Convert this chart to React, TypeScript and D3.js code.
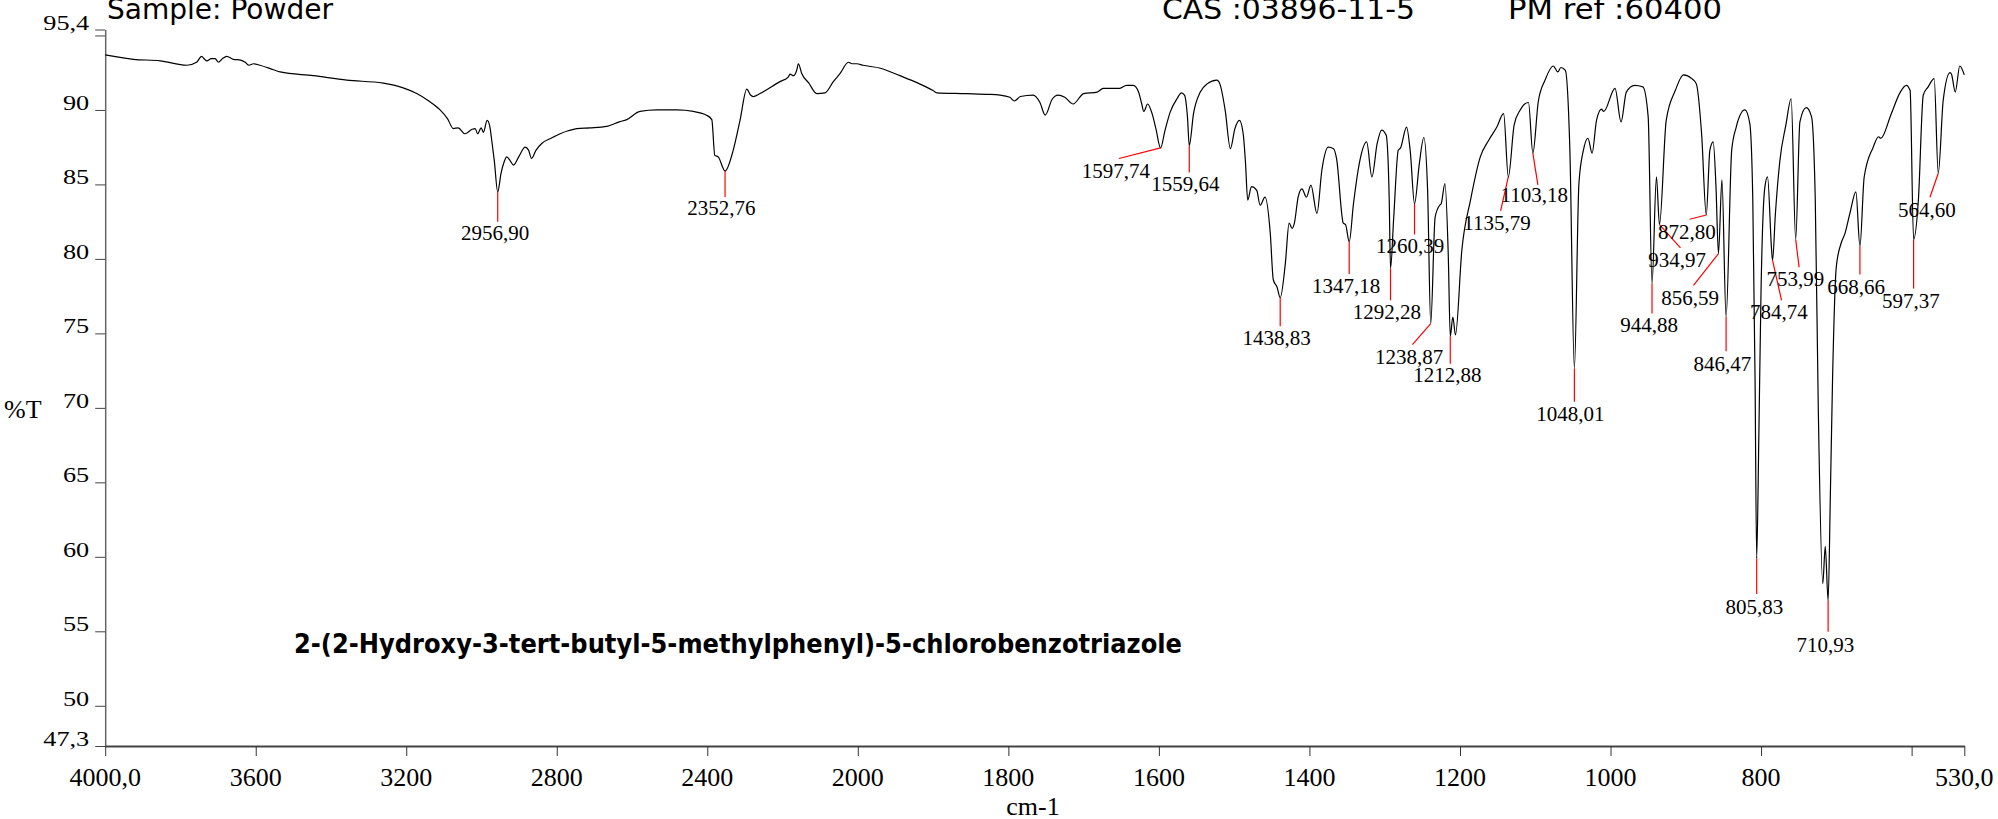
import React, { useEffect, useRef } from 'react';
import * as d3 from 'd3';

// spectrum (cm-1, %T)
const wavenumbers = [
  4000, 3925, 3854, 3783, 3757, 3744, 3736, 3730, 3718, 3708, 3699, 3688, 3677, 3660, 3640, 3628, 3618, 3606, 3589,
  3553, 3535, 3447, 3358, 3261, 3210, 3172, 3140, 3110, 3090, 3075, 3062, 3044, 3025, 3017, 3010, 3001, 2995, 2985,
  2978, 2973, 2966, 2956.9, 2948, 2940, 2933, 2924, 2915, 2900, 2884, 2875, 2867, 2855, 2840, 2815, 2791, 2770, 2747,
  2712, 2667, 2634, 2614, 2579, 2534, 2480, 2437, 2402, 2388, 2380, 2371, 2352.76, 2331, 2313, 2295, 2285, 2278, 2260,
  2207, 2185, 2180, 2171, 2162, 2158, 2149, 2130, 2109, 2087, 2065, 2047, 2025, 2015, 2003, 1993, 1970, 1944, 1920,
  1900, 1895, 1855, 1829, 1811, 1798, 1792, 1784, 1767, 1758, 1751, 1742, 1734, 1725, 1714, 1700, 1682, 1674, 1652,
  1643, 1634, 1627, 1623, 1620, 1615, 1609, 1604, 1597.74, 1592, 1585, 1576, 1570, 1566, 1562, 1559.64, 1554, 1545,
  1536, 1523, 1519, 1512, 1505, 1499, 1493, 1488, 1485, 1482, 1477, 1470, 1465.5, 1459, 1452, 1448, 1443, 1438.83,
  1432, 1427, 1423, 1420, 1415, 1410, 1404, 1398, 1390, 1383.5, 1375, 1368, 1364, 1355, 1352, 1347.18, 1341.5, 1333,
  1324, 1317, 1310, 1304, 1298, 1294, 1292.28, 1288, 1282, 1279, 1271, 1266, 1260.39, 1254, 1248, 1243, 1238.87,
  1233, 1227, 1225, 1220, 1215.5, 1212.88, 1209.5, 1206, 1197.5, 1186, 1173, 1162, 1151, 1142, 1135.79, 1128, 1120,
  1109, 1103.18, 1096, 1087, 1076, 1070, 1066, 1060, 1054, 1048.01, 1042, 1036, 1030, 1024.5, 1018.6, 1012, 1009,
  994, 986, 979, 968, 957, 950, 944.88, 939, 934.97, 926, 914, 903, 892, 886, 879, 872.8, 868, 863.6, 860, 856.59,
  852, 846.47, 839, 833, 821.5, 815, 811, 808, 805.83, 803, 800, 795, 791.4, 786, 784.74, 781, 775, 767, 760, 753.99,
  748.4, 740, 733, 728, 724, 718, 714.7, 710.93, 708, 705, 700, 693, 688.6, 682, 674, 668.66, 663, 651, 644, 641,
  627, 615, 607, 602, 597.37, 591, 584.5, 578, 570, 564.6, 558, 549, 547, 542, 536, 530
];

const transmittance = [
  93.7, 93.4, 93.3, 93.0, 93.2, 93.6, 93.4, 93.3, 93.45, 93.45, 93.2, 93.45, 93.6, 93.4, 93.35, 93.2, 93.0, 93.1, 93.0,
  92.7, 92.55, 92.3, 92.0, 91.8, 91.5, 91.1, 90.6, 90.0, 89.4, 88.75, 88.8, 88.4, 88.7, 88.75, 88.4, 88.8, 88.5, 89.3,
  88.9, 88.0, 86.6, 84.5, 85.75, 86.5, 86.85, 86.6, 86.3, 86.9, 87.5, 87.3, 86.75, 87.3, 87.75, 88.1, 88.4, 88.6, 88.75,
  88.8, 88.9, 89.2, 89.35, 89.9, 90.0, 90.0, 89.9, 89.65, 89.35, 86.95, 86.85, 85.9, 87.3, 89.3, 91.4, 91.0, 90.9, 91.1,
  91.9, 92.2, 92.4, 92.3, 92.7, 93.1, 92.45, 91.8, 91.1, 91.15, 91.9, 92.45, 93.2, 93.1, 93.1, 93.0, 92.8, 92.3, 91.8,
  91.3, 91.15, 91.1, 91.05, 91.0, 90.85, 90.6, 90.9, 91.0, 90.5, 89.65, 90.7, 91.0, 90.85, 90.4, 91.1, 91.2, 91.45, 91.45,
  91.65, 91.65, 91.2, 90.45, 89.9, 90.4, 89.75, 88.75, 87.45, 88.6, 89.85, 90.75, 91.15, 91.0, 89.5, 87.6, 89.75, 91.2,
  91.75, 92.0, 91.75, 90.0, 87.4, 88.75, 89.3, 88.4, 86.5, 83.95, 84.85, 84.6, 83.6, 84.15, 81.7, 78.6, 78.1, 77.4,
  79.7, 82.4, 82.05, 82.4, 84.15, 84.7, 84.15, 84.95, 83.05, 85.95, 87.5, 87.4, 86.75, 82.4, 82.3, 81.15, 83.7, 86.6,
  87.85, 85.5, 87.75, 88.65, 88.3, 84.0, 79.35, 82.8, 87.3, 87.45, 88.85, 87.2, 83.7, 86.4, 88.15, 84.6, 75.65,
  82.8, 83.6, 83.7, 85.05, 80.15, 74.8, 76.1, 74.9, 80.6, 83.95, 86.85, 87.95, 88.85, 89.75, 85.5, 89.0, 90.0,
  90.5, 87.1, 90.55, 92.0, 92.95, 92.55, 92.85, 92.65, 87.3, 72.65, 85.05, 87.3, 88.1, 87.1, 89.3, 90.05, 89.9,
  91.45, 89.2, 91.2, 91.65, 91.55, 89.55, 78.35, 85.5, 82.3, 89.3, 91.3, 92.35, 92.1, 91.75, 88.4, 82.95, 87.3, 87.85, 85.0, 80.35,
  85.3, 76.1, 87.3, 88.85, 90.0, 89.1, 84.0, 72.0, 59.9, 68.0, 78.0, 84.8, 85.5, 80.6, 79.9, 83.0, 86.6, 89.0, 90.75, 81.3,
  89.2, 90.15, 89.55, 84.0, 70.0, 58.2, 60.7, 57.05, 64.0, 72.0, 79.5, 81.15, 81.7, 83.05, 84.5, 80.85, 85.5, 87.5, 88.2, 88.1,
  89.75, 91.2, 91.65, 91.3, 81.3, 83.95, 91.0, 91.55, 92.1, 85.75, 90.65, 92.5, 92.4, 91.2, 92.95, 92.35
];

const peakWavenumbers = [
  2956.9, 2352.76, 1597.74, 1559.64, 1438.83, 1347.18, 1292.28, 1260.39, 1238.87, 1212.88, 1135.79, 1103.18, 1048.01,
  944.88, 934.97, 872.8, 856.59, 846.47, 805.83, 784.74, 753.99, 710.93, 668.66, 597.37, 564.6
];
const peakTransmittance = [
  84.5, 85.9, 87.45, 87.6, 77.4, 81.15, 79.35, 83.7, 75.65, 74.8, 85.5, 87.1, 72.65,
  78.35, 82.3, 82.95, 80.35, 76.1, 59.9, 79.9, 81.3, 57.05, 80.85, 81.3, 85.75
];
const peakLabels = [
  '2956,90', '2352,76', '1597,74', '1559,64', '1438,83', '1347,18', '1292,28', '1260,39', '1238,87', '1212,88',
  '1135,79', '1103,18', '1048,01', '944,88', '934,97', '872,80', '856,59', '846,47', '805,83', '784,74', '753,99',
  '710,93', '668,66', '597,37', '564,60'
];
// label placement relative to the peak, px: [lineDx, lineDy, textDx, textDy]
const peakLabelOffsets = [
  [0, 30, -2.7, 48.3], [0, 26, -3.7, 44.3], [-41.7, 10.6, -44.7, 30], [0, 26.7, -4, 45], [0, 28.7, -3.7, 47.7],
  [0, 32.3, -3, 51.6], [0, 31.7, -3.7, 50], [0, 30.7, -4.5, 49], [-18.3, 21, -21.5, 40], [0, 27.3, -3, 46],
  [-7.7, 34, -11.3, 53.3], [5, 31.7, 1.3, 49.3], [0, 33.3, -4, 52.4], [0, 30, -3, 48.4], [21, 23.3, 17.6, 42.3],
  [-16.6, 4.3, -19.5, 24.3], [-25, 31.6, -28.3, 51.3], [0, 34.3, -3.8, 54], [0, 35.6, -2.3, 55.6], [9, 40, 6.3, 58.3],
  [3.4, 27.7, -0.3, 46.7], [0, 31, -2.8, 51], [0, 28.3, -3.9, 47.6], [0, 49, -2.7, 68.4], [-8.3, 24, -11.3, 43.4]
];

const xTickValues = [4000, 3600, 3200, 2800, 2400, 2000, 1800, 1600, 1400, 1200, 1000, 800, 600, 530];
const xTickLabels = ['4000,0', '3600', '3200', '2800', '2400', '2000', '1800', '1600', '1400', '1200', '1000', '800', '', '530,0'];
const yTickValues = [95.4, 95, 90, 85, 80, 75, 70, 65, 60, 55, 50, 47.3];
const yTickLabels = ['95,4', '', '90', '85', '80', '75', '70', '65', '60', '55', '50', '47,3'];

const serif = 'Liberation Serif';
const comic = 'DejaVu Sans';

function App() {
    const svgRef = useRef(null);

    useEffect(() => {
        document.body.style.margin = '0';
        const width = 1998;
        const height = 819;

        const svg = d3.select(svgRef.current)
            .attr('width', width)
            .attr('height', height);
        svg.selectAll('*').remove();

        // wavenumber axis is compressed above 2000 cm-1
        const x = d3.scaleLinear()
            .domain([4000, 2000, 530])
            .range([105.2, 857.8, 1964.3]);
        const y = d3.scaleLinear()
            .domain([47.3, 95.4])
            .range([746, 29.5]);

        // axes: d3 draws the lines and ticks, labels are placed by hand below
        const yg = svg.append('g')
            .attr('transform', `translate(${x(4000)},0)`)
            .call(d3.axisLeft(y).tickValues(yTickValues).tickSize(10).tickSizeOuter(0).tickFormat(() => ''));
        yg.select('.domain').attr('stroke', '#666').attr('stroke-width', 1.5);
        yg.selectAll('.tick line').attr('stroke', '#444');

        const xg = svg.append('g')
            .attr('transform', `translate(0,${y(47.3)})`)
            .call(d3.axisBottom(x).tickValues(xTickValues).tickSize(10).tickSizeOuter(0).tickFormat(() => ''));
        xg.select('.domain').attr('stroke', '#444').attr('stroke-width', 2.2);
        xg.selectAll('.tick line').attr('stroke', '#333');

        svg.append('g').selectAll('text')
            .data(yTickValues)
            .enter().append('text')
            .attr('transform', d => `translate(${x(4000) - 16},${y(d)}) scale(1.25,1)`)
            .attr('text-anchor', 'end')
            .attr('font-family', serif)
            .attr('font-size', 21)
            .attr('fill', '#000')
            .text((d, i) => yTickLabels[i]);

        svg.append('g').selectAll('text')
            .data(xTickValues)
            .enter().append('text')
            .attr('x', d => x(d))
            .attr('y', y(47.3) + 40)
            .attr('text-anchor', 'middle')
            .attr('font-family', serif)
            .attr('font-size', 26)
            .attr('fill', '#000')
            .text((d, i) => xTickLabels[i]);

        // spectrum
        const pts = wavenumbers.map((w, i) => [w, transmittance[i]]);
        const line = d3.line()
            .x(d => x(d[0]))
            .y(d => y(d[1]))
            .curve(d3.curveMonotoneX);
        svg.append('path')
            .datum(pts)
            .attr('d', line)
            .attr('fill', 'none')
            .attr('stroke', '#000')
            .attr('stroke-width', 1.2);

        // peak labels
        const peaks = peakWavenumbers.map((w, i) => ({
            x: x(w), y: y(peakTransmittance[i]), label: peakLabels[i], off: peakLabelOffsets[i]
        }));
        const pg = svg.append('g');
        pg.selectAll('line')
            .data(peaks)
            .enter().append('line')
            .attr('x1', d => d.x)
            .attr('y1', d => d.y)
            .attr('x2', d => d.x + d.off[0])
            .attr('y2', d => d.y + d.off[1])
            .attr('stroke', '#ff0000')
            .attr('stroke-width', 1.2);
        pg.selectAll('text')
            .data(peaks)
            .enter().append('text')
            .attr('x', d => d.x + d.off[2])
            .attr('y', d => d.y + d.off[3])
            .attr('text-anchor', 'middle')
            .attr('font-family', serif)
            .attr('font-size', 21)
            .text(d => d.label);

        // titles, cut by the top edge as in the source
        const titles = [
            { t: 'Sample: Powder', x: 107, w: 226 },
            { t: 'CAS :03896-11-5', x: 1162, w: 253 },
            { t: 'PM ref :60400', x: 1508, w: 214 }
        ];
        svg.append('g').selectAll('text')
            .data(titles)
            .enter().append('text')
            .attr('x', d => d.x).attr('y', 19)
            .attr('font-family', comic).attr('font-size', 29)
            .attr('textLength', d => d.w).attr('lengthAdjust', 'spacingAndGlyphs')
            .text(d => d.t);
        svg.append('text')
            .attr('x', 294).attr('y', 653)
            .attr('font-family', comic).attr('font-size', 26).attr('font-weight', 'bold')
            .attr('textLength', 888).attr('lengthAdjust', 'spacingAndGlyphs')
            .text('2-(2-Hydroxy-3-tert-butyl-5-methylphenyl)-5-chlorobenzotriazole');

        // axis titles
        svg.append('text')
            .attr('x', 4).attr('y', 418)
            .attr('font-family', serif).attr('font-size', 26)
            .text('%T');
        svg.append('text')
            .attr('x', 1033).attr('y', 815)
            .attr('text-anchor', 'middle')
            .attr('font-family', serif).attr('font-size', 26)
            .text('cm-1');
    }, []);

    return (
        <div style={{ width: 1998, height: 819, background: '#fff' }}>
            <svg ref={svgRef} style={{ display: 'block' }}></svg>
        </div>
    );
}

export default App;
